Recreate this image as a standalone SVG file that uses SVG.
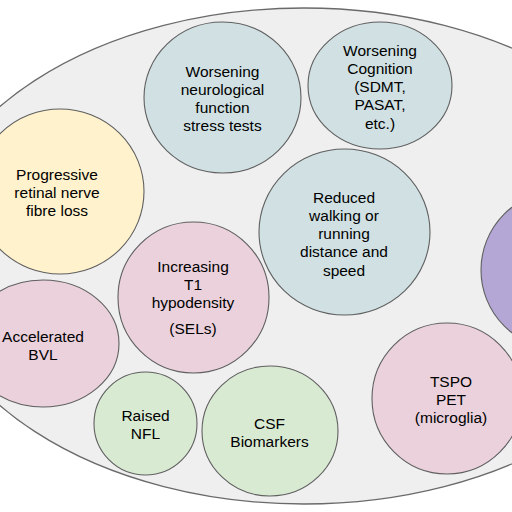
<svg xmlns="http://www.w3.org/2000/svg" width="512" height="512" viewBox="0 0 512 512">
<style>
.n{stroke:#5f5f5f;stroke-width:1.1}
.blue{fill:#d0e0e3}.yellow{fill:#fff2cc}.pink{fill:#ead1dc}.green{fill:#d9ead3}.purple{fill:#b4a7d6}
text{font-family:"Liberation Sans",Arial,sans-serif;font-size:15.5px;fill:#000;text-anchor:middle}
</style>
<rect width="512" height="512" fill="#fff"/>
<g id="container">
<ellipse cx="304" cy="256" rx="381" ry="248" fill="#efefef" stroke="#6a6a6a" stroke-width="1.3"/>
</g>
<g id="connectors"/>
<g id="neuro">
<ellipse class="n blue" cx="222.5" cy="97.5" rx="78.5" ry="75.5"/>
<text x="222.5" y="76.5">Worsening</text>
<text x="222.5" y="94.8">neurological</text>
<text x="222.5" y="113.1">function</text>
<text x="222.5" y="131.4">stress tests</text>
</g>
<g id="cognition">
<ellipse class="n blue" cx="380" cy="85.5" rx="72" ry="63.5"/>
<text x="380" y="55.5">Worsening</text>
<text x="380" y="73.8">Cognition</text>
<text x="380" y="92.1">(SDMT,</text>
<text x="380" y="110.4">PASAT,</text>
<text x="380" y="128.7">etc.)</text>
</g>
<g id="retinal">
<ellipse class="n yellow" cx="60" cy="191.5" rx="84" ry="82.5"/>
<text x="57" y="179.5">Progressive</text>
<text x="57" y="197.8">retinal nerve</text>
<text x="57" y="216.1">fibre loss</text>
</g>
<g id="bvl">
<ellipse class="n pink" cx="43" cy="343.5" rx="76" ry="63.5"/>
<text x="43" y="341.5">Accelerated</text>
<text x="43" y="359.8">BVL</text>
</g>
<g id="t1">
<ellipse class="n pink" cx="193.5" cy="297.5" rx="75.5" ry="75.5"/>
<text x="193" y="271.5">Increasing</text>
<text x="193" y="289.8">T1</text>
<text x="193" y="308.1">hypodensity</text>
<text x="193" y="333.5">(SELs)</text>
</g>
<g id="nfl">
<ellipse class="n green" cx="145.5" cy="423.5" rx="51.5" ry="51.5"/>
<text x="145.5" y="420.5">Raised</text>
<text x="145.5" y="438.8">NFL</text>
</g>
<g id="csf">
<ellipse class="n green" cx="270" cy="431" rx="68" ry="65"/>
<text x="269.5" y="428.5">CSF</text>
<text x="269.5" y="446.8">Biomarkers</text>
</g>
<g id="walking">
<ellipse class="n blue" cx="344.5" cy="232" rx="85.5" ry="83"/>
<text x="344" y="202.5">Reduced</text>
<text x="344" y="220.8">walking or</text>
<text x="344" y="239.1">running</text>
<text x="344" y="257.4">distance and</text>
<text x="344" y="275.7">speed</text>
</g>
<g id="tspo">
<ellipse class="n pink" cx="447" cy="398.5" rx="75" ry="75.5"/>
<text x="451" y="386.5">TSPO</text>
<text x="451" y="404.8">PET</text>
<text x="451" y="423.1">(microglia)</text>
</g>
<g id="purple">
<ellipse class="n purple" cx="560" cy="270" rx="79" ry="79"/>
</g>
</svg>
